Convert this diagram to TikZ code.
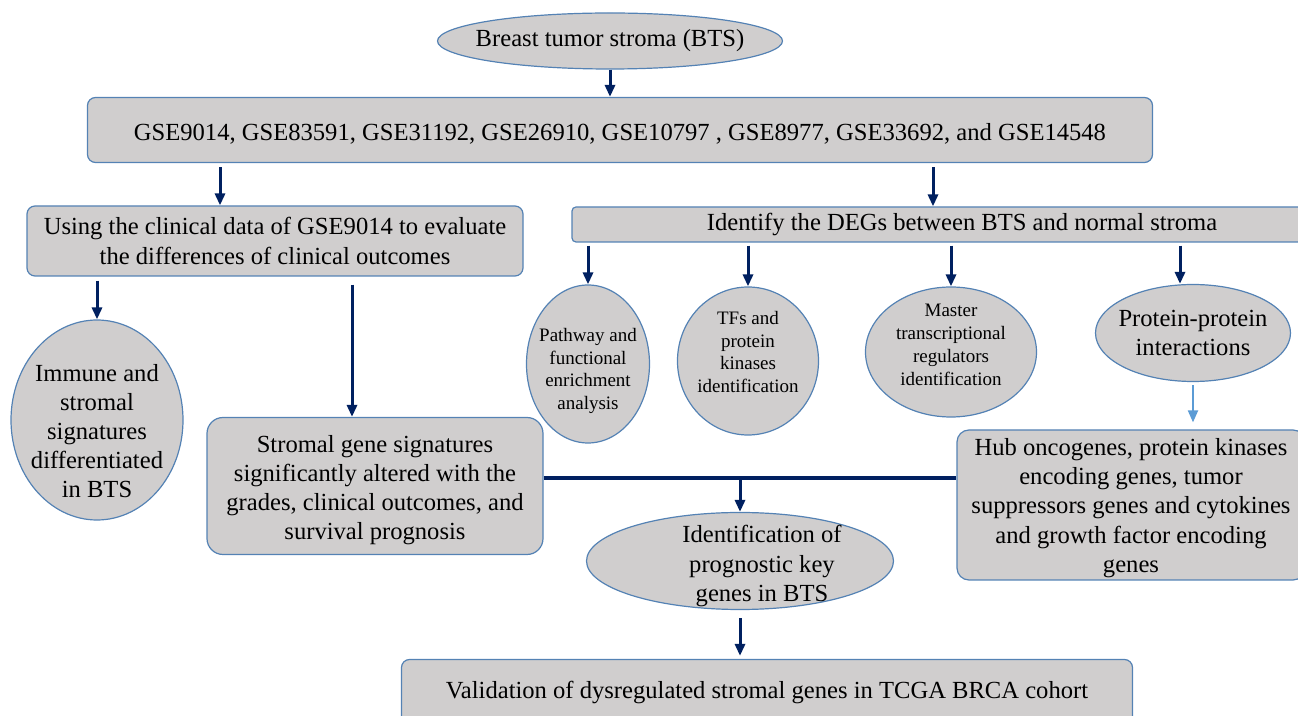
\documentclass[tikz,border=0pt]{standalone}
\usepackage{fontspec}
\setmainfont{Liberation Serif}
\newfontfamily\timesfont{Liberation Serif}
\usetikzlibrary{shapes.geometric,arrows.meta}

\definecolor{boxfill}{RGB}{208,206,206}
\definecolor{boxline}{RGB}{84,130,180}
\definecolor{navy}{RGB}{0,32,96}
\definecolor{skyarrow}{RGB}{91,155,213}

\begin{document}
\begin{tikzpicture}[x=0.5pt,y=-0.5pt,
  bigtext/.style={font=\timesfont\fontsize{12.3}{14.6}\selectfont,align=center},
  smalltext/.style={font=\timesfont\fontsize{9.5}{11.4}\selectfont,align=center},
  card/.style={draw=boxline,fill=boxfill,rounded corners=4pt,line width=0.6pt,inner sep=0pt,bigtext},
  oval/.style={draw=boxline,fill=boxfill,ellipse,line width=0.6pt,inner sep=0pt},
  arr/.style={draw=navy,line width=1.5pt,-{Triangle[length=6pt,width=5pt]}},
  link/.style={draw=navy,line width=2pt}]

\useasboundingbox (0,0) rectangle (1298,716);

% top of the flow
\node[oval,minimum width=172.5pt,minimum height=28pt,
  label={[bigtext]center:Breast tumor stroma (BTS)}] (bts) at (610,41) {};
\node[card,minimum width=532.5pt,minimum height=32.5pt,
  label={[bigtext,yshift=-2pt]center:GSE9014, GSE83591, GSE31192, GSE26910, GSE10797 , GSE8977, GSE33692, and GSE14548}] (gse) at (620,130) {};

% two branches
\node[card,minimum width=248pt,minimum height=35pt] (using) at (275,241)
  {Using the clinical data of GSE9014 to evaluate\\the differences of clinical outcomes};
\node[card,rounded corners=2pt,minimum width=390pt,minimum height=17.5pt] (degs) at (962,224.5)
  {Identify the DEGs between BTS and normal stroma};

% analyses of the DEGs
\node[oval,minimum width=61.5pt,minimum height=79pt,
  label={[smalltext,yshift=-3.5pt]center:Pathway and\\functional\\enrichment\\analysis}] (path) at (588,364) {};
\node[oval,minimum width=70.5pt,minimum height=74pt,
  label={[smalltext,yshift=4.5pt]center:TFs and\\protein\\kinases\\identification}] (tfs) at (748,361) {};
\node[oval,minimum width=85.5pt,minimum height=65pt,
  label={[smalltext,yshift=3.5pt]center:Master\\transcriptional\\regulators\\identification}] (mtr) at (951,352) {};
\node[oval,minimum width=97.5pt,minimum height=48.5pt,
  label={[bigtext]center:Protein-protein\\interactions}] (ppi) at (1193,333) {};
\node[card,rounded corners=6pt,minimum width=174pt,minimum height=75pt,
  label={[bigtext,yshift=-1.5pt]center:Hub oncogenes, protein kinases\\encoding genes, tumor\\suppressors genes and cytokines\\and growth factor encoding\\genes}] (hub) at (1131,505) {};

% clinical side
\node[oval,minimum width=86pt,minimum height=100pt,
  label={[bigtext,yshift=-5.5pt]center:Immune and\\stromal\\signatures\\differentiated\\in BTS}] (imm) at (97,420) {};
\node[card,rounded corners=8pt,minimum width=168pt,minimum height=68.5pt,
  label={[bigtext,yshift=-2pt]center:Stromal gene signatures\\significantly altered with the\\grades, clinical outcomes, and\\survival prognosis}] (strom) at (375,486) {};

% bottom
\node[oval,minimum width=153.5pt,minimum height=48.5pt,
  label={[bigtext,xshift=11pt,yshift=-2.5pt]center:Identification of\\prognostic key\\genes in BTS}] (key) at (740,561) {};
\node[card,minimum width=365.5pt,minimum height=32.5pt] (valid) at (767,692)
  {Validation of dysregulated stromal genes in TCGA BRCA cohort};

% arrows
\coordinate (a1) at ([xshift=-27.5pt]using.north);
\coordinate (a2) at ([xshift=-14.5pt]degs.north);
\coordinate (a3) at ([xshift=-11.5pt]strom.north);
\coordinate (a4) at ([xshift=-6.5pt]ppi.north);
\coordinate (lk) at ([yshift=4pt]strom.east);

\draw[arr] (bts.south) -- (bts.south |- gse.north);
\draw[arr,shorten <=2pt] (a1 |- gse.south) -- (a1);
\draw[arr,shorten <=2pt] (a2 |- gse.south) -- (a2);
\draw[arr,shorten <=2pt] (imm.north |- using.south) -- (imm.north);
\draw[arr,shorten <=4pt] (a3 |- using.south) -- (a3);
\draw[arr,shorten <=1.5pt] (path.north |- degs.south) -- (path.north);
\draw[arr,shorten <=1.5pt] (tfs.north |- degs.south) -- (tfs.north);
\draw[arr,shorten <=1.5pt] (mtr.north |- degs.south) -- (mtr.north);
\draw[arr,shorten <=1.5pt] (a4 |- degs.south) -- (a4);
\draw[arr,draw=skyarrow,line width=1pt,shorten <=1.5pt,shorten >=3.5pt] (ppi.south) -- (ppi.south |- hub.north);
\draw[link] (lk) -- (lk -| hub.west);
\draw[arr] (key.north |- lk) -- (key.north);
\draw[arr,shorten <=4pt,shorten >=1.5pt] (key.south) -- (key.south |- valid.north);
\end{tikzpicture}
\end{document}
